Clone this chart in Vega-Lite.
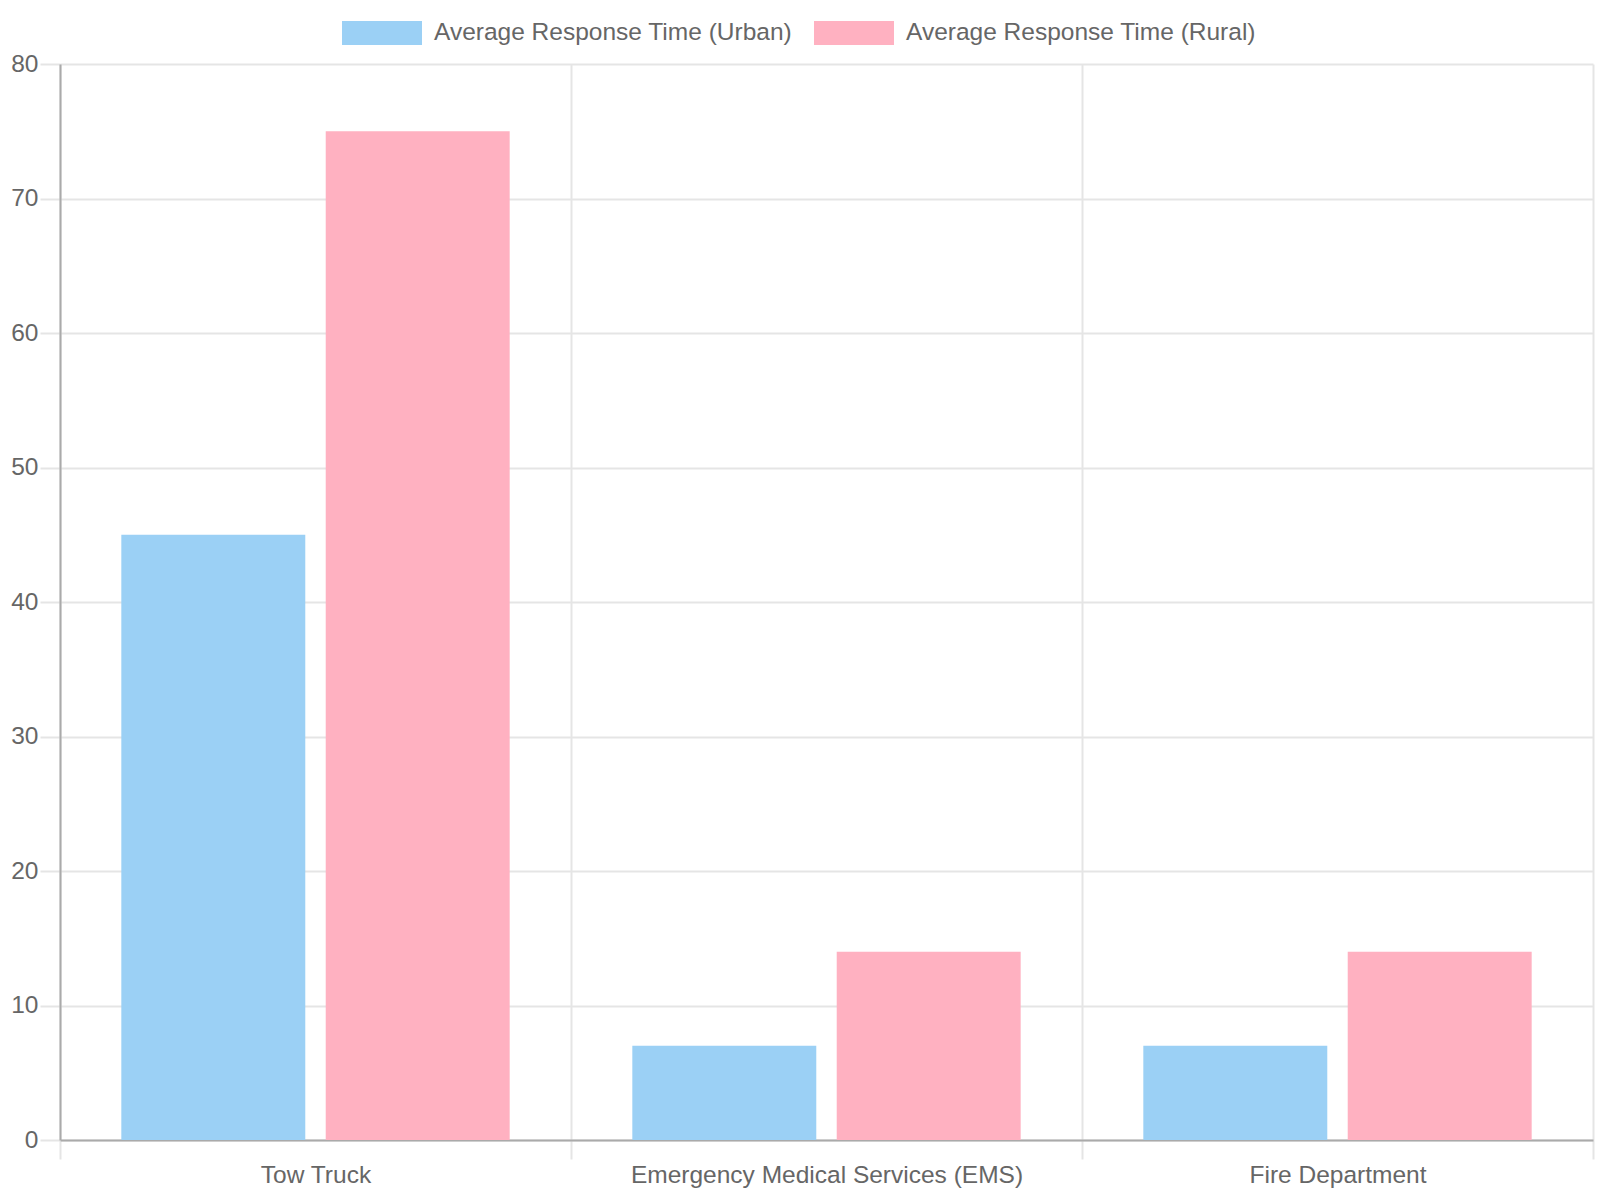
{
  "$schema": "https://vega.github.io/schema/vega-lite/v6.json",
  "width": 1533,
  "height": 1076,
  "autosize": {"type": "none"},
  "padding": {"left": 60, "top": 64, "right": 7, "bottom": 60},
  "background": "white",
  "config": {
    "view": {"stroke": null},
    "font": "Liberation Sans"
  },
  "data": {
    "values": [
      {"service": "Tow Truck", "series": "Average Response Time (Urban)", "minutes": 45},
      {"service": "Tow Truck", "series": "Average Response Time (Rural)", "minutes": 75},
      {"service": "Emergency Medical Services (EMS)", "series": "Average Response Time (Urban)", "minutes": 7},
      {"service": "Emergency Medical Services (EMS)", "series": "Average Response Time (Rural)", "minutes": 14},
      {"service": "Fire Department", "series": "Average Response Time (Urban)", "minutes": 7},
      {"service": "Fire Department", "series": "Average Response Time (Rural)", "minutes": 14}
    ]
  },
  "mark": {"type": "bar", "strokeWidth": 0},
  "encoding": {
    "x": {
      "field": "service",
      "type": "nominal",
      "sort": null,
      "title": null,
      "scale": {"paddingInner": 0, "paddingOuter": 0},
      "axis": {
        "tickBand": "extent",
        "grid": true,
        "gridColor": "#e5e5e5",
        "gridWidth": 2,
        "ticks": true,
        "tickColor": "#e5e5e5",
        "tickWidth": 2,
        "tickSize": 19,
        "domain": true,
        "domainColor": "#aaaaaa",
        "domainWidth": 2,
        "labelAngle": 0,
        "labelFontSize": 24.5,
        "labelColor": "#666666",
        "labelFont": "Liberation Sans",
        "labelPadding": 4,
        "labelLimit": 0
      }
    },
    "xOffset": {
      "field": "series",
      "type": "nominal",
      "sort": ["Average Response Time (Urban)", "Average Response Time (Rural)"],
      "scale": {"paddingInner": 0.1, "paddingOuter": 0.3}
    },
    "y": {
      "field": "minutes",
      "type": "quantitative",
      "title": null,
      "scale": {"domain": [0, 80], "nice": false},
      "axis": {
        "values": [0, 10, 20, 30, 40, 50, 60, 70, 80],
        "grid": true,
        "gridColor": "#e5e5e5",
        "gridWidth": 2,
        "ticks": true,
        "tickColor": "#e5e5e5",
        "tickWidth": 2,
        "tickSize": 20,
        "domain": true,
        "domainColor": "#aaaaaa",
        "domainWidth": 2,
        "labelFontSize": 24.5,
        "labelColor": "#666666",
        "labelFont": "Liberation Sans",
        "labelPadding": 2
      }
    },
    "color": {
      "field": "series",
      "type": "nominal",
      "sort": ["Average Response Time (Urban)", "Average Response Time (Rural)"],
      "scale": {
        "domain": ["Average Response Time (Urban)", "Average Response Time (Rural)"],
        "range": ["#9BD0F5", "#FFB1C1"]
      },
      "legend": {
        "title": null,
        "orient": "none",
        "legendX": 282,
        "legendY": -71,
        "direction": "horizontal",
        "symbolType": "M-1,-0.3H1V0.3H-1Z",
        "symbolSize": 6400,
        "symbolStrokeWidth": 0,
        "symbolOpacity": 1,
        "labelFontSize": 24.5,
        "labelColor": "#666666",
        "labelFont": "Liberation Sans",
        "labelOffset": 12,
        "columnPadding": 21,
        "labelLimit": 0,
        "padding": 0
      }
    }
  }
}
